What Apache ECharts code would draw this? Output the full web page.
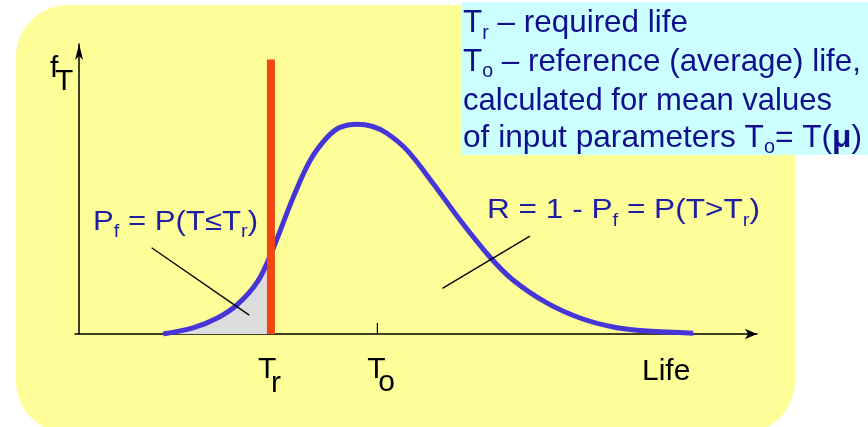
<!DOCTYPE html>
<html>
<head>
<meta charset="utf-8">
<script src="https://cdn.jsdelivr.net/npm/echarts@6/dist/echarts.min.js"></script>
<style>html,body{margin:0;padding:0;background:#fff}#c{width:868px;height:427px}</style>
</head>
<body>
<div id="c"></div>
<script>
// ---- data (life in arbitrary units, density in arbitrary units) ----
const lifeX   = [12.4, 16.8, 20.4, 23.3, 26.3, 28.3, 31.6, 34.1, 36.6, 38.5, 41.0, 43.2, 45.4, 48.4, 52.2, 56.2, 60.6, 64.0, 69.0, 73.9, 78.8, 83.8, 90.6];
const density = [0,    2.1,  5.5, 10.0, 17.9, 27.5, 47.1, 59.8, 67.7, 71.1, 72.2, 71.5, 69.1, 63.2, 51.9, 39.2, 26.5, 18.6, 10.7,  5.5,  2.4,  1.0,  0.3];
const requiredLife = 28.3;   // T_r
const referenceLife = 44.0;  // T_o
const trMarkerTop = 94.5;    // height of T_r marker in density units
const toTickHeight = 3.8;
const pfLeader = [[10.7, 29.7], [25.1, 6.5]];
const rLeader  = [[53.6, 15.7], [66.5, 33.7]];

const curve = lifeX.map((x, i) => [x, density[i]]);
const failArea = curve.filter(p => p[0] <= requiredLife);

// ---- text helpers ----
const cv = document.createElement('canvas').getContext('2d');
function fontStr(size, bold) { return (bold ? 'bold ' : '') + size + 'px "Liberation Sans", Arial, sans-serif'; }
function midOff(size, bold) {
  cv.font = fontStr(size, bold);
  cv.textBaseline = 'alphabetic';
  const a = cv.measureText('H').actualBoundingBoxAscent;
  cv.textBaseline = 'middle';
  const b = cv.measureText('H').actualBoundingBoxAscent;
  cv.textBaseline = 'alphabetic';
  return a - b;
}
function tw(t, size, bold) { cv.font = fontStr(size, bold); cv.textBaseline = 'alphabetic'; return cv.measureText(t).width; }
function textLine(x, base, segs, color, targetW) {
  const total = segs.reduce((s, g) => s + tw(g[0], g[1], g[3]), 0);
  const sx = targetW ? targetW / total : 1;
  let cx = x; const out = [];
  segs.forEach(g => {
    out.push({
      type: 'text', x: cx, y: base + (g[2] || 0) - midOff(g[1], g[3]), scaleX: sx, z: 100,
      style: { text: g[0], x: 0, y: 0, font: fontStr(g[1], g[3]), fill: color, align: 'left', verticalAlign: 'middle' }
    });
    cx += tw(g[0], g[1], g[3]) * sx;
  });
  return out;
}

const chart = echarts.init(document.getElementById('c'), null, { renderer: 'canvas' });
const blue = '#4636D8';
const navy = '#10108F';
const lblBlue = '#1E1EA2';

const option = {
  animation: false,
  backgroundColor: '#ffffff',
  grid: { left: 75, top: 44, width: 682, height: 290 },
  xAxis: {
    type: 'value', min: -0.6, max: 100,
    axisLine: { show: true, onZero: true, symbol: ['none', 'arrow'], symbolSize: [8, 12], lineStyle: { color: '#000', width: 1.5 } },
    axisTick: { show: false }, axisLabel: { show: false }, splitLine: { show: false }
  },
  yAxis: {
    type: 'value', min: 0, max: 99.8,
    axisLine: { show: true, onZero: true, symbol: ['none', 'arrow'], symbolSize: [6, 16], lineStyle: { color: '#000', width: 1.5 } },
    axisTick: { show: false }, axisLabel: { show: false }, splitLine: { show: false }
  },
  series: [
    { type: 'line', data: failArea, smooth: 0.35, showSymbol: false, lineStyle: { width: 0 }, areaStyle: { color: '#DCDCDC', opacity: 1 }, z: 1, silent: true },
    { type: 'line', data: curve, smooth: 0.35, showSymbol: false, lineStyle: { width: 5, color: blue }, z: 3 },
    { type: 'line', data: [[requiredLife, 0], [requiredLife, trMarkerTop]], showSymbol: false, lineStyle: { width: 8, color: '#F2450F' }, z: 4 },
    { type: 'line', data: [[referenceLife, 0], [referenceLife, toTickHeight]], showSymbol: false, lineStyle: { width: 1.2, color: '#000' }, z: 4 },
    { type: 'line', data: pfLeader, showSymbol: false, lineStyle: { width: 1.3, color: '#000' }, z: 5 },
    { type: 'line', data: rLeader, showSymbol: false, lineStyle: { width: 1.3, color: '#000' }, z: 5 }
  ]
};
chart.setOption(option);

const pTr = chart.convertToPixel({ gridIndex: 0 }, [requiredLife, 0]);
const pTo = chart.convertToPixel({ gridIndex: 0 }, [referenceLife, 0]);

let g = [
  { type: 'rect', z: -10, shape: { x: 16, y: 5, width: 779, height: 428, r: 52 }, style: { fill: '#FEFE99' } },
  { type: 'rect', z: -9, shape: { x: 462, y: 2, width: 406, height: 153 }, style: { fill: '#CCFFFF' } }
];
g = g.concat(
  textLine(463, 32, [['T', 32], ['r', 20, 7], [' \u2013 required life', 32]], navy, 225),
  textLine(463, 71, [['T', 32], ['o', 20, 6], [' \u2013 reference (average) life,', 32]], navy, 398),
  textLine(463, 110, [['calculated for mean values', 32]], navy, 369),
  textLine(463, 147, [['of input parameters T', 32], ['o', 20, 6], ['= T(', 32], ['\u03bc', 32, 0, true], [')', 32]], navy, 399),
  textLine(93, 230, [['P', 28], ['f', 18, 7], [' = P(T\u2264T', 28], ['r', 18, 7], [')', 28]], lblBlue, 165),
  textLine(487, 218, [['R = 1 - P', 28], ['f', 18, 8], [' = P(T>T', 28], ['r', 18, 8], [')', 28]], lblBlue, 273),
  textLine(50, 77, [['f', 30]], '#000'),
  textLine(55, 90, [['T', 30]], '#000'),
  textLine(pTr[0] - 13, 378, [['T', 30]], '#000'),
  textLine(pTr[0], 392, [['r', 30]], '#000'),
  textLine(pTo[0] - 10, 378, [['T', 30]], '#000'),
  textLine(pTo[0] + 1, 391, [['o', 30]], '#000'),
  textLine(642, 380, [['Life', 30]], '#000')
);
chart.setOption({ graphic: { elements: g } });
</script>
</body>
</html>
